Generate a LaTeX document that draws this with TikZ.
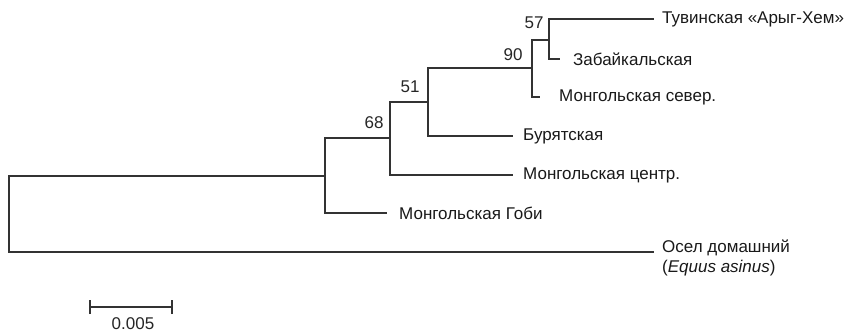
\documentclass[tikz,border=0pt]{standalone}
\usepackage{fontspec}
\setmainfont{Liberation Sans}
\begin{document}
\begin{tikzpicture}[x=1pt,y=-1pt,
  br/.style={line width=1.2pt,draw=black!80},
  leaf/.style={anchor=west,inner sep=0pt,font=\fontsize{17}{20.5}\selectfont,text=black!90},
  boot/.style={inner sep=0pt,font=\fontsize{17}{20}\selectfont,text=black!85}]
\useasboundingbox (0,0) rectangle (846,332);
% internal nodes
\coordinate (R) at (9,214);
\coordinate (A) at (325,176);
\coordinate (B) at (390,138);
\coordinate (C) at (428,102);
\coordinate (D) at (532,68);
\coordinate (E) at (549,40);
% branch ends
\coordinate (tuvE) at (654,19);
\coordinate (zabE) at (560,59);
\coordinate (monsE) at (540,97);
\coordinate (burE) at (513,136);
\coordinate (moncE) at (513,175);
\coordinate (gobiE) at (387,213);
\coordinate (oselE) at (654,252);
% leaves
\node[leaf] (tuv) at (662,19) {Тувинская «Арыг-Хем»};
\node[leaf] (zab) at (573,59) {Забайкальская};
\node[leaf] (mons) at (559,97) {Монгольская север.};
\node[leaf] (bur) at (523,136) {Бурятская};
\node[leaf] (monc) at (523,175) {Монгольская центр.};
\node[leaf] (gobi) at (399,213) {Монгольская Гоби};
\node[leaf,align=left] (osel) at (662,258) {Осел домашний\\(\textit{Equus asinus})};
% branches
\draw[br] (E) |- (tuvE);
\draw[br] (E) |- (zabE);
\draw[br] (D) |- (E);
\draw[br] (D) |- (monsE);
\draw[br] (C) |- (D);
\draw[br] (C) |- (burE);
\draw[br] (B) |- (C);
\draw[br] (B) |- (moncE);
\draw[br] (A) |- (B);
\draw[br] (A) |- (gobiE);
\draw[br] (R) |- (A);
\draw[br] (R) |- (oselE);
% bootstrap values
\node[boot] (b57) at (534,23) {57};
\node[boot] (b90) at (513,55) {90};
\node[boot] (b51) at (410,87) {51};
\node[boot] (b68) at (374,123) {68};
% scale bar
\coordinate (s1) at (90,307);
\coordinate (s2) at (172,307);
\draw[br] (s1) -- (s2);
\draw[br] ([yshift=-7pt]s1) -- ([yshift=7pt]s1);
\draw[br] ([yshift=-7pt]s2) -- ([yshift=7pt]s2);
\node[boot] (sl) at (133,324) {0.005};
\end{tikzpicture}
\end{document}
